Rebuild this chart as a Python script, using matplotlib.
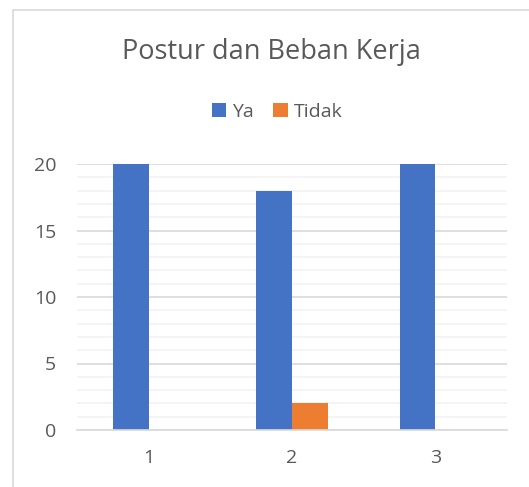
import matplotlib
matplotlib.use("Agg")
import matplotlib.pyplot as plt
from matplotlib.patches import Rectangle
import numpy as np

categories = ["1", "2", "3"]
ya = [20, 18, 20]
tidak = [0, 2, 0]
series_names = ["Ya", "Tidak"]
yticks = [0, 5, 10, 15, 20]

W, H = 529, 487
fig = plt.figure(figsize=(W / 100, H / 100), dpi=100)
plt.rcParams['font.family'] = ['Open Sans', 'DejaVu Sans']

# chart border
fig.patches.append(Rectangle((13 / W, -0.05), 1.2, 1 - 10 / H + 0.05, transform=fig.transFigure,
                             fill=False, edgecolor="#D9D9D9", linewidth=1.2, zorder=0))

left, right = 77 / W, 507 / W
bottom, top = 1 - 430 / H, 1 - 164 / H
ax = fig.add_axes([left, bottom, right - left, top - bottom])

x = np.arange(len(categories))
bw = 0.25
ax.bar(x - bw / 2, ya, width=bw, color="#4472C4", label=series_names[0], zorder=3)
ax.bar(x + bw / 2, tidak, width=bw, color="#ED7D31", label=series_names[1], zorder=3)

ax.set_xlim(-0.5, 2.5)
ax.set_ylim(0, 20)
ax.set_yticks(yticks)
ax.set_yticks(np.arange(0, 21, 1), minor=True)
ax.set_xticks(x)
ax.set_xticklabels(categories)
ax.grid(axis="y", which="major", color="#D9D9D9", linewidth=1.2, zorder=1)
ax.grid(axis="y", which="minor", color="#F2F2F2", linewidth=1.2, zorder=0)
for s in ["top", "right", "left"]:
    ax.spines[s].set_visible(False)
ax.spines["bottom"].set_color("#D9D9D9")
ax.spines["bottom"].set_linewidth(1.2)
ax.spines["bottom"].set_zorder(4)
ax.tick_params(axis="both", which="both", length=0, labelsize=14, labelcolor="#595959")
ax.tick_params(axis="y", pad=15)
ax.tick_params(axis="x", pad=14)

fig.text(271 / W, 1 - 52 / H, "Postur dan Beban Kerja", ha="center", va="center",
         fontsize=19.5, color="#595959")
leg = fig.legend(loc="center", bbox_to_anchor=(277 / W, 1 - 112 / H), ncol=2, frameon=False,
                 fontsize=14, handlelength=0.75, handleheight=0.75, handletextpad=0.3, columnspacing=1.0)
for t in leg.get_texts():
    t.set_color("#595959")

fig.savefig("out.png", dpi=100)
